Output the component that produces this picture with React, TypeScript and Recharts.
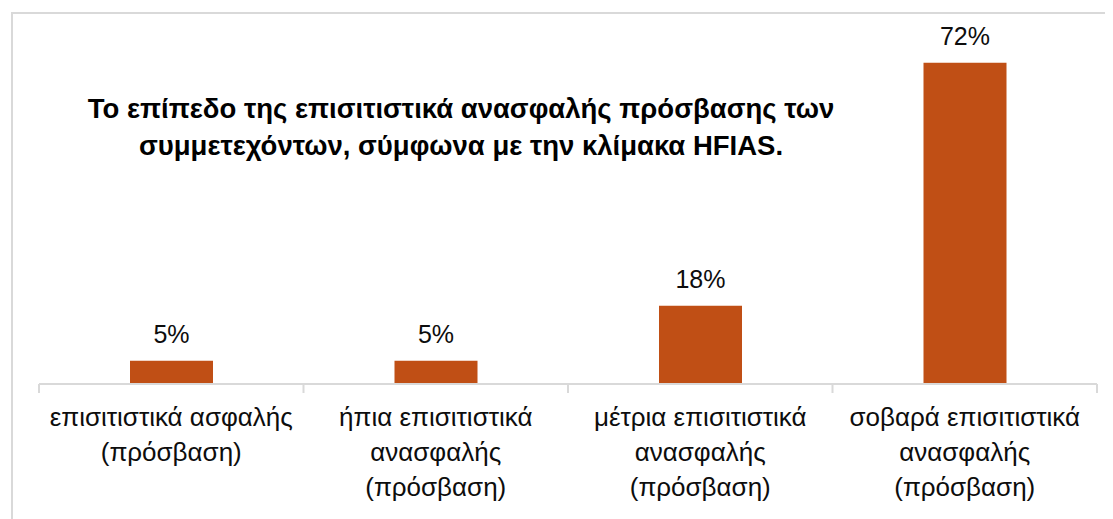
import React from "react";
import { BarChart, Bar, XAxis, YAxis, LabelList } from "recharts";

const categories = [
  "επισιτιστικά ασφαλής\n(πρόσβαση)",
  "ήπια επισιτιστικά\nανασφαλής\n(πρόσβαση)",
  "μέτρια επισιτιστικά\nανασφαλής\n(πρόσβαση)",
  "σοβαρά επισιτιστικά\nανασφαλής\n(πρόσβαση)",
];
const shares = [0.052, 0.052, 0.176, 0.722];
const titleLines = [
  "Το επίπεδο της επισιτιστικά ανασφαλής πρόσβασης των",
  "συμμετεχόντων, σύμφωνα με την κλίμακα HFIAS.",
];

const data = categories.map((name, i) => ({ name, value: shares[i] }));

const W = 1105;
const H = 511;
const MARGIN = { top: 20, right: 16, bottom: 0, left: 31 };
const FONT = "'Liberation Sans', Arial, sans-serif";
const GRID = "#d9d9d9";
const BAR = "#C04F15";
const TEXT = "#0d0d0d";

const band = (W - MARGIN.left - MARGIN.right) / categories.length;

const Tick = (props: any) => {
  const { x, y, payload, index } = props;
  const lines = String(payload.value).split("\n");
  return (
    <g>
      <line x1={x - band / 2} x2={x - band / 2} y1={y - 8} y2={y + 1} stroke={GRID} strokeWidth={2} />
      {index === categories.length - 1 && (
        <line x1={x + band / 2} x2={x + band / 2} y1={y - 8} y2={y + 1} stroke={GRID} strokeWidth={2} />
      )}
      <text textAnchor="middle" fontFamily={FONT} fontSize={26} fill={TEXT}>
        {lines.map((l, i) => (
          <tspan key={i} x={x} y={y + 34 + i * 35}>
            {l}
          </tspan>
        ))}
      </text>
    </g>
  );
};

export default function App() {
  return (
    <div style={{ position: "relative", width: W, height: H, overflow: "hidden", background: "#fff" }}>
      <div
        style={{
          position: "absolute",
          left: 3,
          top: 4,
          width: 1300,
          height: 800,
          border: `2px solid ${GRID}`,
          boxSizing: "border-box",
        }}
      />
      <div style={{ position: "absolute", left: 0, top: 0 }}>
        <BarChart width={W} height={H} data={data} margin={MARGIN} barSize={83}>
          <XAxis
            dataKey="name"
            height={135}
            interval={0}
            tickLine={false}
            axisLine={{ stroke: GRID, strokeWidth: 2 }}
            tick={<Tick />}
          />
          <YAxis hide domain={[0, 0.8]} />
          <Bar dataKey="value" fill={BAR} isAnimationActive={false}>
            <LabelList
              dataKey="value"
              position="top"
              offset={18}
              formatter={(v: any) => `${Math.round(Number(v) * 100)}%`}
              style={{ fontFamily: FONT, fontSize: 25, fill: TEXT }}
            />
          </Bar>
        </BarChart>
      </div>
      <div
        style={{
          position: "absolute",
          left: 0,
          top: 81.5,
          width: 906,
          textAlign: "center",
          fontFamily: FONT,
          fontWeight: 700,
          fontSize: 27.5,
          lineHeight: "37px",
          color: "#000",
          whiteSpace: "nowrap",
        }}
      >
        {titleLines.map((t, i) => (
          <div key={i}>{t}</div>
        ))}
      </div>
    </div>
  );
}
